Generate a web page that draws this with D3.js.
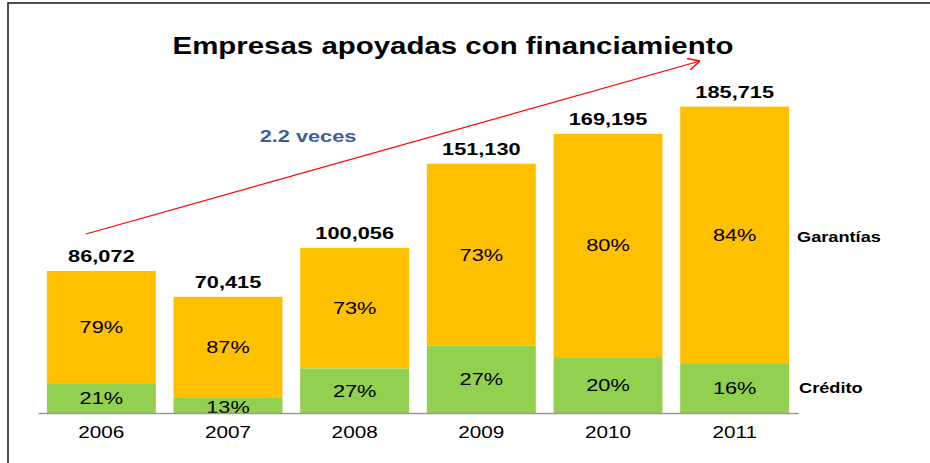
<!DOCTYPE html>
<html>
<head>
<meta charset="utf-8">
<script src="https://cdn.jsdelivr.net/npm/d3@7"></script>
<style>
  body { margin: 0; background: #fff; }
  svg { display: block; font-family: "Liberation Sans", Arial, sans-serif; }
</style>
</head>
<body>
<svg id="chart" width="930" height="463"></svg>
<script>
// data
const years = ['2006', '2007', '2008', '2009', '2010', '2011']
const totals = [86072, 70415, 100056, 151130, 169195, 185715]
const creditoPct = [21, 13, 27, 27, 20, 16]
const garantiasPct = [79, 87, 73, 73, 80, 84]

const svg = d3.select('#chart')
const fmt = d3.format(',')
const SX = 1.28  // the original text is drawn wide

// place a text at (px,py), stretched horizontally
function at(px, py, s = SX) {
  return `translate(${px},${py}) scale(${s},1)`
}

// frame
svg.append('rect')
  .attr('x', 8).attr('y', 3)
  .attr('width', 940).attr('height', 480)
  .attr('fill', 'none')
  .attr('stroke', '#222')
  .attr('stroke-width', 1.6)

const x = d3.scaleBand()
  .domain(years)
  .range([38, 798])
  .paddingInner(0.14)
  .paddingOuter(0.07)

const y = d3.scaleLinear()
  .domain([0, 200000])
  .range([413, 83])

const rows = years.map((yr, i) => ({
  year: yr,
  total: totals[i],
  credito: totals[i] * creditoPct[i] / 100,
  cPct: creditoPct[i],
  gPct: garantiasPct[i]
}))

const cx = (d) => x(d.year) + x.bandwidth() / 2

const bars = svg.append('g')

bars.selectAll('rect.gar')
  .data(rows)
  .enter()
  .append('rect')
  .attr('class', 'gar')
  .attr('x', d => x(d.year))
  .attr('width', x.bandwidth())
  .attr('y', d => y(d.total))
  .attr('height', d => y(d.credito) - y(d.total))
  .attr('fill', '#FFC000')

bars.selectAll('rect.cre')
  .data(rows)
  .enter()
  .append('rect')
  .attr('class', 'cre')
  .attr('x', d => x(d.year))
  .attr('width', x.bandwidth())
  .attr('y', d => y(d.credito))
  .attr('height', d => y(0) - y(d.credito))
  .attr('fill', '#92D050')

// percent labels
bars.selectAll('text.gp')
  .data(rows)
  .enter()
  .append('text')
  .attr('transform', d => at(cx(d), (y(d.total) + y(d.credito)) / 2 + 6))
  .attr('text-anchor', 'middle')
  .style('font-size', '17px')
  .text(d => d.gPct + '%')

bars.selectAll('text.cp')
  .data(rows)
  .enter()
  .append('text')
  .attr('transform', d => at(cx(d), (y(d.credito) + y(0)) / 2 + 6 + (d.cPct < 15 ? 2 : 0)))
  .attr('text-anchor', 'middle')
  .style('font-size', '17px')
  .text(d => d.cPct + '%')

// totals
bars.selectAll('text.tot')
  .data(rows)
  .enter()
  .append('text')
  .attr('transform', d => at(cx(d), y(d.total) - 9))
  .attr('text-anchor', 'middle')
  .style('font-size', '17px')
  .style('font-weight', 'bold')
  .text(d => fmt(d.total))

// x axis
const axis = svg.append('g')
  .attr('transform', `translate(0,${y(0)})`)
  .call(d3.axisBottom(x).tickSize(0).tickPadding(12))
axis.select('.domain').attr('stroke', '#999').attr('stroke-width', 1.5)
axis.selectAll('.tick text')
  .attr('y', null).attr('dy', null)
  .attr('transform', at(0, 25, 1.22))
  .style('font-size', '17px')
  .style('font-family', '"Liberation Sans", Arial, sans-serif')
  .attr('fill', '#000')

// series labels
svg.append('text')
  .attr('transform', at(797, 242, 1.3))
  .style('font-size', '14px').style('font-weight', 'bold')
  .text('Garantías')
svg.append('text')
  .attr('transform', at(799, 393, 1.3))
  .style('font-size', '14px').style('font-weight', 'bold')
  .text('Crédito')

// title
svg.append('text')
  .attr('transform', at(453, 54))
  .attr('text-anchor', 'middle')
  .style('font-size', '23px').style('font-weight', 'bold')
  .text('Empresas apoyadas con financiamiento')

// growth arrow
svg.append('defs').append('marker')
  .attr('id', 'head')
  .attr('viewBox', '0 0 10 10')
  .attr('refX', 10).attr('refY', 5)
  .attr('markerWidth', 12).attr('markerHeight', 12)
  .attr('markerUnits', 'userSpaceOnUse')
  .attr('orient', 'auto')
  .append('path')
  .attr('d', 'M 0 0 L 10 5 L 0 10')
  .attr('fill', 'none')
  .attr('stroke', '#FF0000')
  .attr('stroke-width', 1.2)

svg.append('line')
  .attr('x1', 86).attr('y1', 234)
  .attr('x2', 700).attr('y2', 61)
  .attr('stroke', '#FF0000')
  .attr('stroke-width', 1.2)
  .attr('marker-end', 'url(#head)')

svg.append('text')
  .attr('transform', at(308, 142))
  .attr('text-anchor', 'middle')
  .style('font-size', '17px').style('font-weight', 'bold')
  .attr('fill', '#3A6096')
  .text('2.2 veces')
</script>
</body>
</html>
